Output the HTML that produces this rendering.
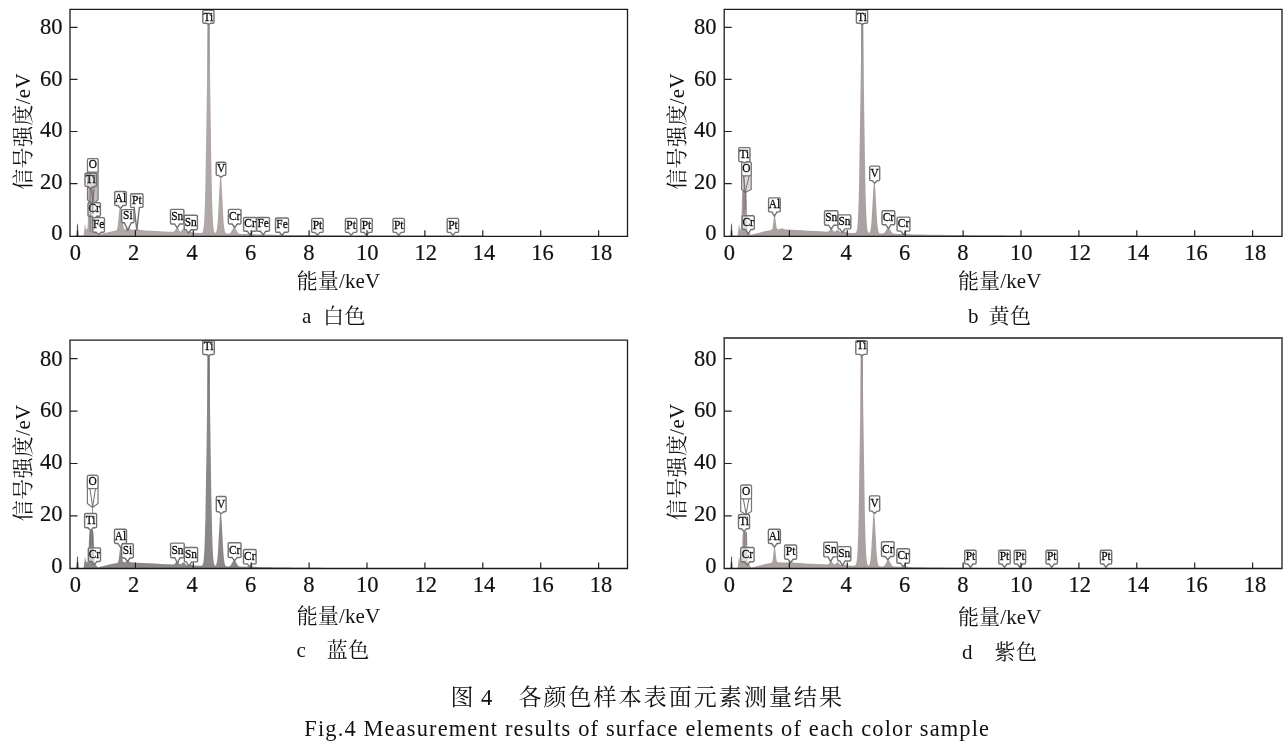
<!DOCTYPE html>
<html lang="zh"><head><meta charset="utf-8"><title>Fig.4</title>
<style>
html,body{margin:0;padding:0;background:#fff;overflow:hidden}
svg{display:block;filter:blur(.32px)}
text{font-family:"Liberation Serif","Noto Serif CJK SC",serif;fill:#111}
.lb{fill:#0a0a0a;stroke:#0a0a0a;stroke-width:.26px}
.tk{stroke:#111;stroke-width:.2px}
</style></head><body>
<svg width="1288" height="742" viewBox="0 0 1288 742">
<rect width="1288" height="742" fill="#fff"/>
<path d="M74.61,236.3L74.61,235.6L75.61,235.54L75.86,235.37L76.11,234.89L76.36,233.76L76.61,231.66L77.11,225.29L77.36,222.99L77.61,222.8L77.86,224.82L78.36,231.23L78.61,233.49L78.86,234.76L79.11,235.32L79.36,235.52L82.86,235.57L83.11,235.48L83.36,235.25L83.61,234.69L83.86,233.58L84.86,224.87L85.11,224.35L85.36,225.26L85.86,228.7L86.11,229.69L86.36,229.81L86.86,228.68L87.11,228.3L87.36,228.28L87.61,227.15L87.86,221.35L88.36,200.75L88.61,194L88.86,190.63L89.11,189.32L89.36,188.95L91.61,188.93L92.11,188.84L92.36,188.99L92.61,189.69L92.86,191.76L93.11,196.5L93.86,226.61L94.11,231.15L94.36,231.7L94.61,231.5L94.85,231.44L95.1,231.57L96.6,234.03L97.1,234.56L97.6,234.79L103.85,233.32L110.1,231.63L116.1,230.37L116.6,230.08L116.85,229.73L117.1,229.11L117.35,228.11L117.85,224.71L119.1,212.06L119.35,210.26L119.6,208.97L119.85,208.17L120.1,207.75L120.35,207.6L120.85,207.58L121.1,207.79L121.35,208.31L121.6,209.27L122.1,212.71L123.35,225.07L123.6,226.74L123.85,227.92L124.1,228.7L124.35,229.14L124.6,229.34L124.85,229.39L125.35,229.19L125.85,228.68L127.35,226.14L127.6,225.91L127.85,225.82L128.1,225.9L128.35,226.13L129.85,228.74L130.35,229.3L130.85,229.61L133.6,229.82L134.85,229.51L136.35,228.74L136.85,228.66L137.6,228.89L139.35,229.86L145.35,230.39L151.36,230.72L157.36,231.05L163.36,231.38L169.36,231.68L173.11,231.78L173.86,231.58L174.36,231.26L175.11,230.33L176.36,228.09L176.86,227.5L177.11,227.39L177.36,227.42L177.61,227.58L178.11,228.25L179.36,230.57L179.86,231.18L180.36,231.46L180.61,231.47L181.11,231.23L182.86,229L183.36,228.66L183.61,228.64L183.86,228.74L184.36,229.22L185.86,231.45L186.61,232.11L187.36,232.37L188.36,232.28L190.11,231.72L190.86,231.73L193.61,232.76L199.86,233.04L201.36,232.99L201.86,232.84L202.36,232.43L202.61,232.05L202.86,231.47L203.11,230.61L203.36,229.37L203.86,225.22L204.36,217.68L204.86,205.14L205.36,186.08L206.36,127.09L207.61,41.33L208.11,20L208.36,14.7L208.61,13.45L208.86,16.3L209.11,23.1L209.61,46.88L211.36,165.58L212.11,200.24L212.61,214.66L213.11,223.59L213.61,228.64L213.86,230.18L214.11,231.25L214.36,231.99L214.61,232.47L214.86,232.76L215.11,232.9L215.36,232.91L215.61,232.8L215.86,232.54L216.11,232.12L216.36,231.48L216.86,229.33L217.36,225.51L217.86,219.51L219.86,180.87L220.11,177.49L220.36,175.25L220.61,174.3L220.86,174.7L221.11,176.42L221.61,183.31L223.11,213.91L223.61,221.64L224.11,227L224.61,230.31L225.11,232.14L225.35,232.69L225.85,233.31L226.35,233.58L228.35,233.69L229.35,233.45L230.1,233L230.85,232.2L233.35,227.78L233.85,227.28L234.1,227.17L234.35,227.16L234.6,227.25L235.1,227.73L237.6,232.25L238.35,233.13L239.35,233.74L245.6,234.01L249.85,233.49L256.1,234.37L262.35,234.5L268.6,234.61L274.85,234.72L281.1,234.83L287.35,234.88L293.6,234.94L299.85,235L306.1,235.05L312.1,235.11L318.1,235.16L324.1,235.21L330.1,235.25L336.1,235.29L342.1,235.33L348.11,235.38L354.11,235.42L360.11,235.46L366.11,235.5L372.11,235.54L378.11,235.58L384.11,235.6L390.11,235.6L396.11,235.6L402.11,235.6L408.11,235.6L414.11,235.6L420.11,235.6L426.11,235.6L432.11,235.6L438.11,235.6L444.11,235.6L450.11,235.6L456.11,235.6L462.11,235.6L468.11,235.6L474.11,235.6L480.11,235.6L482.61,235.6L482.61,236.3Z" fill="#b0a8a6"/>
<path d="M89.2,202.8H99.2Q100.4,202.8 100.4,204V215Q100.4,216.2 99.2,216.2H96.8L94.2,219L91.6,216.2H89.2Q88,216.2 88,215V204Q88,202.8 89.2,202.8Z" fill="#fff" fill-opacity="0.6" stroke="#727272" stroke-width="1.4"/>
<path d="M94,217.6H103.2Q104.4,217.6 104.4,218.8V231Q104.4,232.2 103.2,232.2H101.2L98.6,234.6L96,232.2H94Q92.8,232.2 92.8,231V218.8Q92.8,217.6 94,217.6Z" fill="#fff" fill-opacity="0.8" stroke="#727272" stroke-width="1.4"/>
<path d="M89.1,158.6H96.5Q98.1,158.6 98.1,160.2V200L92.8,204L87.5,200V160.2Q87.5,158.6 89.1,158.6Z" fill="#b8b0ae" fill-opacity="0.85" stroke="#777" stroke-width="1.2"/><rect x="87.5" y="158.6" width="10.6" height="13.6" rx="1.6" fill="#fff" fill-opacity="1" stroke="#777" stroke-width="1.2"/><path d="M90,172.2L92.8,203.5L95.6,172.2" fill="none" stroke="#6f6f6f" stroke-width="1"/>
<path d="M86.2,173.2H95.2Q96.4,173.2 96.4,174.4V185.2Q96.4,186.4 95.2,186.4H93.3L90.7,189L88.1,186.4H86.2Q85,186.4 85,185.2V174.4Q85,173.2 86.2,173.2Z" fill="#fff" fill-opacity="0.6" stroke="#727272" stroke-width="1.4"/>
<path d="M115.9,191.5H125.1Q126.3,191.5 126.3,192.7V204.3Q126.3,205.5 125.1,205.5H123.1L120.5,208.5L117.9,205.5H115.9Q114.7,205.5 114.7,204.3V192.7Q114.7,191.5 115.9,191.5Z" fill="#fff" fill-opacity="1" stroke="#727272" stroke-width="1.4"/>
<path d="M122.8,209.6H132.8Q134,209.6 134,210.8V221.6Q134,222.8 132.8,222.8H131.2L127.8,230.2L124.4,222.8H122.8Q121.6,222.8 121.6,221.6V210.8Q121.6,209.6 122.8,209.6Z" fill="#fff" fill-opacity="0.8" stroke="#727272" stroke-width="1.4"/>
<path d="M131.8,193.8H141.8Q143,193.8 143,195V206.2Q143,207.4 141.8,207.4H139.4L136.8,230.5L134.2,207.4H131.8Q130.6,207.4 130.6,206.2V195Q130.6,193.8 131.8,193.8Z" fill="#fff" fill-opacity="1" stroke="#727272" stroke-width="1.4"/>
<path d="M171.7,209.4H182.7Q183.9,209.4 183.9,210.6V222.8Q183.9,224 182.7,224H179.8L177.2,227.8L174.6,224H171.7Q170.5,224 170.5,222.8V210.6Q170.5,209.4 171.7,209.4Z" fill="#fff" fill-opacity="1" stroke="#727272" stroke-width="1.4"/>
<path d="M185.4,215.3H196.2Q197.4,215.3 197.4,216.5V228.5Q197.4,229.7 196.2,229.7H191.1L188.5,233L185.9,229.7H185.4Q184.2,229.7 184.2,228.5V216.5Q184.2,215.3 185.4,215.3Z" fill="#fff" fill-opacity="1" stroke="#727272" stroke-width="1.4"/>
<linearGradient id="ga" x1="0" y1="0" x2="0" y2="1"><stop offset="0" stop-color="#958c8a"/><stop offset="1" stop-color="#b0a8a6"/></linearGradient><rect x="207.45" y="23.2" width="2.3" height="60" fill="url(#ga)"/><path d="M204,10.2H212.8Q214,10.2 214,11.4V22Q214,23.2 212.8,23.2H211.2L208.6,24.2L206,23.2H204Q202.8,23.2 202.8,22V11.4Q202.8,10.2 204,10.2Z" fill="#fff" fill-opacity="1" stroke="#727272" stroke-width="1.4"/>
<path d="M217.4,162.2H224.6Q225.8,162.2 225.8,163.4V174.2Q225.8,175.4 224.6,175.4H223.6L221,177.2L218.4,175.4H217.4Q216.2,175.4 216.2,174.2V163.4Q216.2,162.2 217.4,162.2Z" fill="#fff" fill-opacity="1" stroke="#727272" stroke-width="1.4"/>
<path d="M229.6,209.4H239.8Q241,209.4 241,210.6V222.8Q241,224 239.8,224H237.3L234.7,227.5L232.1,224H229.6Q228.4,224 228.4,222.8V210.6Q228.4,209.4 229.6,209.4Z" fill="#fff" fill-opacity="1" stroke="#727272" stroke-width="1.4"/>
<path d="M244.8,217.5H255.2Q256.4,217.5 256.4,218.7V230.1Q256.4,231.3 255.2,231.3H252.6L250,235L247.4,231.3H244.8Q243.6,231.3 243.6,230.1V218.7Q243.6,217.5 244.8,217.5Z" fill="#fff" fill-opacity="1" stroke="#727272" stroke-width="1.4"/>
<path d="M257.9,217.5H268.3Q269.5,217.5 269.5,218.7V230.1Q269.5,231.3 268.3,231.3H265.7L263.1,235L260.5,231.3H257.9Q256.7,231.3 256.7,230.1V218.7Q256.7,217.5 257.9,217.5Z" fill="#fff" fill-opacity="1" stroke="#727272" stroke-width="1.4"/>
<path d="M276.7,218H287.3Q288.5,218 288.5,219.2V231Q288.5,232.2 287.3,232.2H284.6L282,235.3L279.4,232.2H276.7Q275.5,232.2 275.5,231V219.2Q275.5,218 276.7,218Z" fill="#fff" fill-opacity="1" stroke="#727272" stroke-width="1.4"/>
<path d="M312.9,218.4H321.9Q323.1,218.4 323.1,219.6V231.2Q323.1,232.4 321.9,232.4H320L317.4,235.3L314.8,232.4H312.9Q311.7,232.4 311.7,231.2V219.6Q311.7,218.4 312.9,218.4Z" fill="#fff" fill-opacity="1" stroke="#727272" stroke-width="1.4"/>
<path d="M346.6,218.4H355.6Q356.8,218.4 356.8,219.6V231.2Q356.8,232.4 355.6,232.4H353.7L351.1,235.3L348.5,232.4H346.6Q345.4,232.4 345.4,231.2V219.6Q345.4,218.4 346.6,218.4Z" fill="#fff" fill-opacity="1" stroke="#727272" stroke-width="1.4"/>
<path d="M362,218.4H371Q372.2,218.4 372.2,219.6V231.2Q372.2,232.4 371,232.4H369.1L366.5,235.3L363.9,232.4H362Q360.8,232.4 360.8,231.2V219.6Q360.8,218.4 362,218.4Z" fill="#fff" fill-opacity="1" stroke="#727272" stroke-width="1.4"/>
<path d="M394.2,218.4H403.2Q404.4,218.4 404.4,219.6V231.2Q404.4,232.4 403.2,232.4H401.3L398.7,235.3L396.1,232.4H394.2Q393,232.4 393,231.2V219.6Q393,218.4 394.2,218.4Z" fill="#fff" fill-opacity="1" stroke="#727272" stroke-width="1.4"/>
<path d="M448.4,218.4H457.4Q458.6,218.4 458.6,219.6V231.2Q458.6,232.4 457.4,232.4H455.5L452.9,235.3L450.3,232.4H448.4Q447.2,232.4 447.2,231.2V219.6Q447.2,218.4 448.4,218.4Z" fill="#fff" fill-opacity="1" stroke="#727272" stroke-width="1.4"/>
<text class="lb" transform="translate(94.2,212.3) scale(1,1.16)" text-anchor="middle" font-size="11.4">Cr</text>
<text class="lb" transform="translate(98.6,228.3) scale(1,1.16)" text-anchor="middle" font-size="11.4">Fe</text>
<text class="lb" transform="translate(92.8,168.3) scale(1,1.16)" text-anchor="middle" font-size="11.4">O</text>
<text class="lb" transform="translate(90.7,182.5) scale(1,1.16)" text-anchor="middle" font-size="11.4">Ti</text>
<text class="lb" transform="translate(120.5,201.6) scale(1,1.16)" text-anchor="middle" font-size="11.4">Al</text>
<text class="lb" transform="translate(127.8,218.9) scale(1,1.16)" text-anchor="middle" font-size="11.4">Si</text>
<text class="lb" transform="translate(136.8,203.5) scale(1,1.16)" text-anchor="middle" font-size="11.4">Pt</text>
<text class="lb" transform="translate(177.2,220.1) scale(1,1.16)" text-anchor="middle" font-size="11.4">Sn</text>
<text class="lb" transform="translate(190.8,225.8) scale(1,1.16)" text-anchor="middle" font-size="11.4">Sn</text>
<text class="lb" transform="translate(208.4,20.7) scale(1,1.16)" text-anchor="middle" font-size="11.4">Ti</text>
<text class="lb" transform="translate(221,171.5) scale(1,1.16)" text-anchor="middle" font-size="11.4">V</text>
<text class="lb" transform="translate(234.7,220.1) scale(1,1.16)" text-anchor="middle" font-size="11.4">Cr</text>
<text class="lb" transform="translate(250,227.4) scale(1,1.16)" text-anchor="middle" font-size="11.4">Cr</text>
<text class="lb" transform="translate(263.1,227.4) scale(1,1.16)" text-anchor="middle" font-size="11.4">Fe</text>
<text class="lb" transform="translate(282,228.3) scale(1,1.16)" text-anchor="middle" font-size="11.4">Fe</text>
<text class="lb" transform="translate(317.4,228.5) scale(1,1.16)" text-anchor="middle" font-size="11.4">Pt</text>
<text class="lb" transform="translate(351.1,228.5) scale(1,1.16)" text-anchor="middle" font-size="11.4">Pt</text>
<text class="lb" transform="translate(366.5,228.5) scale(1,1.16)" text-anchor="middle" font-size="11.4">Pt</text>
<text class="lb" transform="translate(398.7,228.5) scale(1,1.16)" text-anchor="middle" font-size="11.4">Pt</text>
<text class="lb" transform="translate(452.9,228.5) scale(1,1.16)" text-anchor="middle" font-size="11.4">Pt</text>
<path d="M90.2,187V232" stroke="#6c6664" stroke-width="0.9" fill="none" opacity="0.8"/>
<path d="M92.9,190V214" stroke="#6c6664" stroke-width="0.9" fill="none" opacity="0.8"/>
<path d="M77.5,224.41V236.3" stroke="#555" stroke-width="1.1" fill="none"/>
<path d="M70,9.4H627.5V236.3H70Z" fill="none" stroke="#1c1c1c" stroke-width="1.3"/>
<path d="M70,183.55h7.5M70,131.5h7.5M70,79.45h7.5M70,27.4h7.5M77.5,236.3v-6M135.4,236.3v-6M193.3,236.3v-6M251.2,236.3v-6M309.1,236.3v-6M367,236.3v-6M424.9,236.3v-6M482.8,236.3v-6M540.7,236.3v-6M598.6,236.3v-6" fill="none" stroke="#222" stroke-width="1.2"/>
<text class="tk" x="62.4" y="34.2" text-anchor="end" font-size="22.5">80</text>
<text class="tk" x="62.4" y="85.7" text-anchor="end" font-size="22.5">60</text>
<text class="tk" x="62.4" y="137.2" text-anchor="end" font-size="22.5">40</text>
<text class="tk" x="62.4" y="188.7" text-anchor="end" font-size="22.5">20</text>
<text class="tk" x="62.4" y="240.2" text-anchor="end" font-size="22.5">0</text>
<text class="tk" x="75.3" y="259.5" text-anchor="middle" font-size="22.5">0</text>
<text class="tk" x="133.7" y="259.5" text-anchor="middle" font-size="22.5">2</text>
<text class="tk" x="192.1" y="259.5" text-anchor="middle" font-size="22.5">4</text>
<text class="tk" x="250.5" y="259.5" text-anchor="middle" font-size="22.5">6</text>
<text class="tk" x="308.9" y="259.5" text-anchor="middle" font-size="22.5">8</text>
<text class="tk" x="367.3" y="259.5" text-anchor="middle" font-size="22.5">10</text>
<text class="tk" x="425.7" y="259.5" text-anchor="middle" font-size="22.5">12</text>
<text class="tk" x="484.1" y="259.5" text-anchor="middle" font-size="22.5">14</text>
<text class="tk" x="542.5" y="259.5" text-anchor="middle" font-size="22.5">16</text>
<text class="tk" x="600.9" y="259.5" text-anchor="middle" font-size="22.5">18</text>
<text transform="translate(29.5,131.35) rotate(-90)" text-anchor="middle" font-size="21" letter-spacing="0.35">信号强度/eV</text>
<text x="338.5" y="287.8" text-anchor="middle" font-size="21" letter-spacing="0.15">能量/keV</text>
<text x="302" y="323.4" font-size="21">a</text>
<path d="M728.61,236.3L728.61,235.6L729.61,235.54L729.86,235.37L730.11,234.89L730.36,233.76L730.61,231.66L731.11,225.29L731.36,222.99L731.61,222.8L731.86,224.82L732.36,231.23L732.61,233.49L732.86,234.76L733.11,235.32L733.36,235.52L736.86,235.57L737.11,235.48L737.36,235.25L737.61,234.69L737.86,233.58L738.86,224.87L739.11,224.35L739.36,225.26L739.86,228.7L740.11,229.69L740.36,229.81L740.86,228.63L741.11,227.24L741.36,222.19L741.86,201.65L742.11,194.24L742.36,190.58L742.61,189.36L742.86,189.25L743.36,189.74L743.86,189.99L745.11,189.98L745.61,189.88L745.86,189.95L746.11,190.43L746.36,192L746.61,195.79L746.86,203.11L747.36,224.6L747.61,230.54L747.86,231.72L748.36,231.44L748.61,231.52L748.86,231.77L750.11,234.04L750.61,234.62L751.11,234.87L757.35,233.35L763.6,231.57L769.85,230.17L771.1,229.99L771.6,229.76L771.85,229.5L772.1,229.08L772.35,228.41L772.6,227.4L773.1,224.16L774.1,215.53L774.35,214.36L774.6,214.07L774.85,214.72L775.1,216.18L776.1,224.7L776.6,227.45L776.85,228.25L777.1,228.74L777.35,229.03L778.1,229.28L779.35,229.21L781.6,228.15L782.1,228.16L784.35,229.34L790.6,229.68L796.6,229.97L802.61,230.32L808.61,230.67L814.86,231.03L820.86,231.36L826.86,231.64L827.86,231.52L828.61,231.19L830.61,229.24L831.11,229.03L831.36,229.06L831.86,229.34L833.61,231.24L834.11,231.53L834.61,231.6L835.11,231.47L836.86,230.14L837.36,229.94L837.86,230L838.61,230.53L840.11,231.87L840.86,232.19L841.86,232.24L844.11,231.57L844.86,231.59L847.61,232.63L853.86,232.91L855.11,232.84L855.61,232.65L856.11,232.17L856.36,231.71L856.61,231.04L856.86,230.04L857.11,228.63L857.61,223.94L858.11,215.55L858.61,201.85L859.11,181.4L861.36,36.06L861.61,24.97L861.86,17.34L862.11,13.6L862.36,13.95L862.61,18.37L862.86,26.62L863.36,52.65L865.11,170.88L865.61,194.39L866.11,210.8L866.61,221.23L867.11,227.3L867.36,229.18L867.61,230.53L867.86,231.46L868.11,232.09L868.36,232.5L868.61,232.73L868.86,232.83L869.11,232.81L869.36,232.67L869.61,232.4L869.86,231.96L870.11,231.3L870.61,229.14L871.11,225.39L871.61,219.64L873.36,188.79L873.86,182.63L874.11,181.07L874.36,180.69L874.61,181.51L874.86,183.48L875.36,190.29L876.86,217.48L877.36,223.95L877.86,228.33L878.36,230.98L878.86,232.42L879.36,233.13L879.86,233.45L882.35,233.61L883.6,233.28L884.35,232.77L885.35,231.54L887.1,228.5L887.6,227.89L888.1,227.6L888.35,227.6L888.6,227.68L889.1,228.12L891.6,232.31L892.35,233.12L893.35,233.69L899.6,233.93L903.85,233.42L910.1,234.31L916.35,234.44L922.6,234.56L928.85,234.68L935.1,234.79L941.35,234.85L947.6,234.91L953.85,234.97L960.1,235.03L966.1,235.08L972.1,235.14L978.1,235.19L984.1,235.24L990.1,235.28L996.1,235.32L1002.11,235.36L1008.11,235.41L1014.11,235.45L1020.11,235.49L1026.11,235.53L1032.11,235.58L1038.11,235.6L1044.11,235.6L1050.11,235.6L1056.11,235.6L1062.11,235.6L1068.11,235.6L1074.11,235.6L1080.11,235.6L1086.11,235.6L1092.11,235.6L1098.11,235.6L1104.11,235.6L1110.11,235.6L1116.11,235.6L1122.11,235.6L1128.11,235.6L1134.11,235.6L1136.61,235.6L1136.61,236.3Z" fill="#aaa2a0"/>
<path d="M743.3,215.7H753.1Q754.3,215.7 754.3,216.9V228.3Q754.3,229.5 753.1,229.5H750.8L748.2,234L745.6,229.5H743.3Q742.1,229.5 742.1,228.3V216.9Q742.1,215.7 743.3,215.7Z" fill="#fff" fill-opacity="0.6" stroke="#727272" stroke-width="1.4"/>
<path d="M743.2,161.8H749.6Q751.2,161.8 751.2,163.4V189.5L745.2,192.5L741.6,189.5V163.4Q741.6,161.8 743.2,161.8Z" fill="#d8d2d0" fill-opacity="0.8" stroke="#777" stroke-width="1.2"/><rect x="741.6" y="161.8" width="9.6" height="14" rx="1.6" fill="#fff" fill-opacity="0.75" stroke="#777" stroke-width="1.2"/><path d="M743.6,175.8L745.2,192L749.2,175.8" fill="none" stroke="#6f6f6f" stroke-width="1"/>
<path d="M740,147.6H748.8Q750,147.6 750,148.8V160.4Q750,161.6 748.8,161.6H747L744.4,163L741.8,161.6H740Q738.8,161.6 738.8,160.4V148.8Q738.8,147.6 740,147.6Z" fill="#fff" fill-opacity="0.9" stroke="#727272" stroke-width="1.4"/>
<path d="M769.8,197.9H779Q780.2,197.9 780.2,199.1V210.7Q780.2,211.9 779,211.9H777L774.4,216.2L771.8,211.9H769.8Q768.6,211.9 768.6,210.7V199.1Q768.6,197.9 769.8,197.9Z" fill="#fff" fill-opacity="1" stroke="#727272" stroke-width="1.4"/>
<path d="M825.7,210.8H836.7Q837.9,210.8 837.9,212V224Q837.9,225.2 836.7,225.2H833.8L831.2,229.2L828.6,225.2H825.7Q824.5,225.2 824.5,224V212Q824.5,210.8 825.7,210.8Z" fill="#fff" fill-opacity="1" stroke="#727272" stroke-width="1.4"/>
<path d="M839.2,214.9H849.6Q850.8,214.9 850.8,216.1V227.7Q850.8,228.9 849.6,228.9H845L842.4,232.6L839.8,228.9H839.2Q838,228.9 838,227.7V216.1Q838,214.9 839.2,214.9Z" fill="#fff" fill-opacity="1" stroke="#727272" stroke-width="1.4"/>
<linearGradient id="gb" x1="0" y1="0" x2="0" y2="1"><stop offset="0" stop-color="#958c8a"/><stop offset="1" stop-color="#aaa2a0"/></linearGradient><rect x="861.05" y="23.2" width="2.3" height="60" fill="url(#gb)"/><path d="M857.6,10.2H866.4Q867.6,10.2 867.6,11.4V22Q867.6,23.2 866.4,23.2H864.8L862.2,24.2L859.6,23.2H857.6Q856.4,23.2 856.4,22V11.4Q856.4,10.2 857.6,10.2Z" fill="#fff" fill-opacity="1" stroke="#727272" stroke-width="1.4"/>
<path d="M870.9,166.1H878.5Q879.7,166.1 879.7,167.3V179.4Q879.7,180.6 878.5,180.6H877.3L874.7,183.3L872.1,180.6H870.9Q869.7,180.6 869.7,179.4V167.3Q869.7,166.1 870.9,166.1Z" fill="#fff" fill-opacity="1" stroke="#727272" stroke-width="1.4"/>
<path d="M883.2,210.8H893.6Q894.8,210.8 894.8,212V223.6Q894.8,224.8 893.6,224.8H891L888.4,228.6L885.8,224.8H883.2Q882,224.8 882,223.6V212Q882,210.8 883.2,210.8Z" fill="#fff" fill-opacity="1" stroke="#727272" stroke-width="1.4"/>
<path d="M898.3,217.1H908.7Q909.9,217.1 909.9,218.3V229.9Q909.9,231.1 908.7,231.1H906.1L903.5,234.6L900.9,231.1H898.3Q897.1,231.1 897.1,229.9V218.3Q897.1,217.1 898.3,217.1Z" fill="#fff" fill-opacity="1" stroke="#727272" stroke-width="1.4"/>
<text class="lb" transform="translate(748.2,225.6) scale(1,1.16)" text-anchor="middle" font-size="11.4">Cr</text>
<text class="lb" transform="translate(746.4,171.9) scale(1,1.16)" text-anchor="middle" font-size="11.4">O</text>
<text class="lb" transform="translate(744.4,157.7) scale(1,1.16)" text-anchor="middle" font-size="11.4">Ti</text>
<text class="lb" transform="translate(774.4,208) scale(1,1.16)" text-anchor="middle" font-size="11.4">Al</text>
<text class="lb" transform="translate(831.2,221.3) scale(1,1.16)" text-anchor="middle" font-size="11.4">Sn</text>
<text class="lb" transform="translate(844.4,225) scale(1,1.16)" text-anchor="middle" font-size="11.4">Sn</text>
<text class="lb" transform="translate(862,20.5) scale(1,1.16)" text-anchor="middle" font-size="11.4">Ti</text>
<text class="lb" transform="translate(874.7,176.7) scale(1,1.16)" text-anchor="middle" font-size="11.4">V</text>
<text class="lb" transform="translate(888.4,220.9) scale(1,1.16)" text-anchor="middle" font-size="11.4">Cr</text>
<text class="lb" transform="translate(903.5,227.2) scale(1,1.16)" text-anchor="middle" font-size="11.4">Cr</text>
<path d="M744,176V214" stroke="#6c6664" stroke-width="0.9" fill="none" opacity="0.8"/>
<path d="M745.6,190V210" stroke="#6c6664" stroke-width="0.9" fill="none" opacity="0.8"/>
<path d="M731.5,224.41V236.3" stroke="#555" stroke-width="1.1" fill="none"/>
<path d="M724.2,9.4H1282V236.3H724.2Z" fill="none" stroke="#1c1c1c" stroke-width="1.3"/>
<path d="M724.2,183.55h7.5M724.2,131.5h7.5M724.2,79.45h7.5M724.2,27.4h7.5M731.5,236.3v-6M789.4,236.3v-6M847.3,236.3v-6M905.2,236.3v-6M963.1,236.3v-6M1021,236.3v-6M1078.9,236.3v-6M1136.8,236.3v-6M1194.7,236.3v-6M1252.6,236.3v-6" fill="none" stroke="#222" stroke-width="1.2"/>
<text class="tk" x="716.6" y="34.2" text-anchor="end" font-size="22.5">80</text>
<text class="tk" x="716.6" y="85.7" text-anchor="end" font-size="22.5">60</text>
<text class="tk" x="716.6" y="137.2" text-anchor="end" font-size="22.5">40</text>
<text class="tk" x="716.6" y="188.7" text-anchor="end" font-size="22.5">20</text>
<text class="tk" x="716.6" y="240.2" text-anchor="end" font-size="22.5">0</text>
<text class="tk" x="729.3" y="259.5" text-anchor="middle" font-size="22.5">0</text>
<text class="tk" x="787.7" y="259.5" text-anchor="middle" font-size="22.5">2</text>
<text class="tk" x="846.1" y="259.5" text-anchor="middle" font-size="22.5">4</text>
<text class="tk" x="904.5" y="259.5" text-anchor="middle" font-size="22.5">6</text>
<text class="tk" x="962.9" y="259.5" text-anchor="middle" font-size="22.5">8</text>
<text class="tk" x="1021.3" y="259.5" text-anchor="middle" font-size="22.5">10</text>
<text class="tk" x="1079.7" y="259.5" text-anchor="middle" font-size="22.5">12</text>
<text class="tk" x="1138.1" y="259.5" text-anchor="middle" font-size="22.5">14</text>
<text class="tk" x="1196.5" y="259.5" text-anchor="middle" font-size="22.5">16</text>
<text class="tk" x="1254.9" y="259.5" text-anchor="middle" font-size="22.5">18</text>
<text transform="translate(683.7,131.35) rotate(-90)" text-anchor="middle" font-size="21" letter-spacing="0.35">信号强度/eV</text>
<text x="999.8" y="288.3" text-anchor="middle" font-size="21" letter-spacing="0.15">能量/keV</text>
<text x="968" y="323.4" font-size="21">b</text>
<path d="M74.61,568.5L74.61,568.3L75.61,568.24L75.86,568.07L76.11,567.58L76.36,566.45L76.61,564.33L77.11,557.92L77.36,555.6L77.61,555.41L77.86,557.44L78.36,563.9L78.61,566.18L78.86,567.45L79.11,568.02L79.36,568.22L82.86,568.27L83.11,568.18L83.36,567.95L83.61,567.39L83.86,566.27L84.86,557.5L85.11,556.98L85.36,557.89L85.86,561.36L86.11,562.35L86.36,562.47L86.86,561.34L87.11,560.95L87.36,561.07L87.61,561.72L87.86,562.7L88.11,562.73L88.36,558.79L88.86,541.83L89.11,535.73L89.36,532.45L89.61,531.01L89.86,530.49L90.11,530.34L92.61,530.12L92.86,530.18L93.11,530.66L93.36,532.16L93.61,535.71L93.86,542.31L94.36,559.87L94.61,563.88L94.85,564.4L95.1,564.19L95.35,564.11L95.6,564.18L95.85,564.4L97.1,566.55L97.6,567.1L98.1,567.34L104.35,565.87L110.6,564.16L116.85,562.97L117.35,562.82L117.6,562.67L117.85,562.39L118.1,561.94L118.35,561.2L118.6,560.11L119.1,556.59L120.1,547.18L120.35,545.91L120.6,545.6L120.85,546.31L121.1,547.91L122.1,557.22L122.6,560.23L122.85,561.1L123.1,561.64L123.35,561.95L123.6,562.11L124.6,562.23L125.35,562.07L126.1,561.61L127.35,560.46L127.85,560.29L128.35,560.46L129.85,561.88L130.6,562.29L136.85,562.63L142.85,562.92L148.86,563.25L154.86,563.58L160.86,563.91L166.86,564.23L172.86,564.49L173.86,564.35L174.61,563.94L176.61,561.59L176.86,561.42L177.11,561.34L177.36,561.37L177.86,561.7L179.61,563.94L180.11,564.27L180.61,564.35L181.11,564.19L182.86,562.59L183.36,562.35L183.86,562.42L184.36,562.77L185.86,564.41L186.61,564.9L187.36,565.08L188.61,564.88L190.11,564.39L190.86,564.4L193.61,565.44L199.86,565.72L201.36,565.68L201.86,565.52L202.36,565.11L202.61,564.72L202.86,564.14L203.11,563.27L203.36,562.03L203.86,557.85L204.36,550.26L204.86,537.63L205.36,518.45L206.36,459.06L207.61,372.72L208.11,351.25L208.36,345.92L208.61,344.65L208.86,347.52L209.11,354.37L209.61,378.31L211.36,497.81L212.11,532.7L212.61,547.22L213.11,556.21L213.61,561.29L213.86,562.84L214.11,563.93L214.36,564.67L214.61,565.16L214.86,565.45L215.11,565.6L215.36,565.62L215.61,565.53L215.86,565.3L216.11,564.92L216.36,564.34L216.86,562.37L217.36,558.88L217.86,553.4L219.86,518.09L220.11,515L220.36,512.95L220.61,512.08L220.86,512.45L221.11,514.03L221.61,520.32L223.11,548.3L223.61,555.36L224.11,560.26L224.61,563.29L225.11,564.96L225.6,565.8L226.1,566.19L228.1,566.4L229.35,566.13L230.1,565.68L230.85,564.88L233.35,560.43L233.85,559.92L234.1,559.81L234.35,559.8L234.6,559.9L235.1,560.38L237.6,564.93L238.35,565.81L239.35,566.43L245.6,566.69L249.85,566.18L256.1,567.06L262.35,567.19L268.6,567.31L274.85,567.42L281.1,567.52L287.35,567.58L293.6,567.64L299.85,567.69L306.1,567.75L312.1,567.8L318.1,567.86L324.1,567.91L330.1,567.95L336.1,567.99L342.1,568.03L348.11,568.07L354.11,568.11L360.11,568.15L366.11,568.2L372.11,568.24L378.11,568.28L384.11,568.3L390.11,568.3L396.11,568.3L402.11,568.3L408.11,568.3L414.11,568.3L420.11,568.3L426.11,568.3L432.11,568.3L438.11,568.3L444.11,568.3L450.11,568.3L456.11,568.3L462.11,568.3L468.11,568.3L474.11,568.3L480.11,568.3L482.61,568.3L482.61,568.5Z" fill="#8b8787"/>
<path d="M89.5,547.9H99.3Q100.5,547.9 100.5,549.1V560.3Q100.5,561.5 99.3,561.5H97L94.4,564.4L91.8,561.5H89.5Q88.3,561.5 88.3,560.3V549.1Q88.3,547.9 89.5,547.9Z" fill="#fff" fill-opacity="0.6" stroke="#727272" stroke-width="1.4"/>
<path d="M89,475.4H96.4Q98,475.4 98,477V503.5L92.7,507.5L87.4,503.5V477Q87.4,475.4 89,475.4Z" fill="#fff" fill-opacity="1" stroke="#777" stroke-width="1.2"/><rect x="87.4" y="475.4" width="10.6" height="13.2" rx="1.6" fill="#fff" fill-opacity="1" stroke="#777" stroke-width="1.2"/><path d="M89.9,488.6L92.7,507L95.5,488.6" fill="none" stroke="#6f6f6f" stroke-width="1"/>
<path d="M85.8,513.5H95.4Q96.6,513.5 96.6,514.7V526.5Q96.6,527.7 95.4,527.7H93.2L90.6,530.5L88,527.7H85.8Q84.6,527.7 84.6,526.5V514.7Q84.6,513.5 85.8,513.5Z" fill="#fff" fill-opacity="0.85" stroke="#727272" stroke-width="1.4"/>
<path d="M115.7,529.3H125.3Q126.5,529.3 126.5,530.5V542.3Q126.5,543.5 125.3,543.5H123.1L120.5,547.3L117.9,543.5H115.7Q114.5,543.5 114.5,542.3V530.5Q114.5,529.3 115.7,529.3Z" fill="#fff" fill-opacity="1" stroke="#727272" stroke-width="1.4"/>
<path d="M122.9,543.8H132.1Q133.3,543.8 133.3,545V556.8Q133.3,558 132.1,558H130.1L127.5,561.5L124.9,558H122.9Q121.7,558 121.7,556.8V545Q121.7,543.8 122.9,543.8Z" fill="#fff" fill-opacity="1" stroke="#727272" stroke-width="1.4"/>
<path d="M171.8,543.1H183Q184.2,543.1 184.2,544.3V556.5Q184.2,557.7 183,557.7H180L177.4,563L174.8,557.7H171.8Q170.6,557.7 170.6,556.5V544.3Q170.6,543.1 171.8,543.1Z" fill="#fff" fill-opacity="1" stroke="#727272" stroke-width="1.4"/>
<path d="M185.6,547.5H196.4Q197.6,547.5 197.6,548.7V560.7Q197.6,561.9 196.4,561.9H191.6L189,566L186.4,561.9H185.6Q184.4,561.9 184.4,560.7V548.7Q184.4,547.5 185.6,547.5Z" fill="#fff" fill-opacity="1" stroke="#727272" stroke-width="1.4"/>
<linearGradient id="gc" x1="0" y1="0" x2="0" y2="1"><stop offset="0" stop-color="#726c6c"/><stop offset="1" stop-color="#8b8787"/></linearGradient><rect x="207.45" y="354.5" width="2.3" height="60" fill="url(#gc)"/><path d="M203.9,340.9H213.1Q214.3,340.9 214.3,342.1V353.3Q214.3,354.5 213.1,354.5H211.2L208.6,355.5L206,354.5H203.9Q202.7,354.5 202.7,353.3V342.1Q202.7,340.9 203.9,340.9Z" fill="#fff" fill-opacity="1" stroke="#727272" stroke-width="1.4"/>
<path d="M217.5,496.5H224.9Q226.1,496.5 226.1,497.7V510.5Q226.1,511.7 224.9,511.7H223.8L221.2,513.7L218.6,511.7H217.5Q216.3,511.7 216.3,510.5V497.7Q216.3,496.5 217.5,496.5Z" fill="#fff" fill-opacity="1" stroke="#727272" stroke-width="1.4"/>
<path d="M229.4,542.7H239.8Q241,542.7 241,543.9V556.3Q241,557.5 239.8,557.5H237.2L234.6,560.6L232,557.5H229.4Q228.2,557.5 228.2,556.3V543.9Q228.2,542.7 229.4,542.7Z" fill="#fff" fill-opacity="1" stroke="#727272" stroke-width="1.4"/>
<path d="M244.7,549.5H254.9Q256.1,549.5 256.1,550.7V562.7Q256.1,563.9 254.9,563.9H252.4L249.8,567L247.2,563.9H244.7Q243.5,563.9 243.5,562.7V550.7Q243.5,549.5 244.7,549.5Z" fill="#fff" fill-opacity="1" stroke="#727272" stroke-width="1.4"/>
<text class="lb" transform="translate(94.4,557.6) scale(1,1.16)" text-anchor="middle" font-size="11.4">Cr</text>
<text class="lb" transform="translate(92.7,484.7) scale(1,1.16)" text-anchor="middle" font-size="11.4">O</text>
<text class="lb" transform="translate(90.6,523.8) scale(1,1.16)" text-anchor="middle" font-size="11.4">Ti</text>
<text class="lb" transform="translate(120.5,539.6) scale(1,1.16)" text-anchor="middle" font-size="11.4">Al</text>
<text class="lb" transform="translate(127.5,554.1) scale(1,1.16)" text-anchor="middle" font-size="11.4">Si</text>
<text class="lb" transform="translate(177.4,553.8) scale(1,1.16)" text-anchor="middle" font-size="11.4">Sn</text>
<text class="lb" transform="translate(191,558) scale(1,1.16)" text-anchor="middle" font-size="11.4">Sn</text>
<text class="lb" transform="translate(208.5,350.3) scale(1,1.16)" text-anchor="middle" font-size="11.4">Ti</text>
<text class="lb" transform="translate(221.2,507.8) scale(1,1.16)" text-anchor="middle" font-size="11.4">V</text>
<text class="lb" transform="translate(234.6,553.6) scale(1,1.16)" text-anchor="middle" font-size="11.4">Cr</text>
<text class="lb" transform="translate(249.8,560) scale(1,1.16)" text-anchor="middle" font-size="11.4">Cr</text>
<path d="M90.6,531V547" stroke="#6c6664" stroke-width="0.9" fill="none" opacity="0.8"/>
<path d="M92.6,507.5V513.5" stroke="#6c6664" stroke-width="0.9" fill="none" opacity="0.8"/>
<path d="M92.4,531V545" stroke="#6c6664" stroke-width="0.9" fill="none" opacity="0.8"/>
<path d="M77.5,557.03V568.5" stroke="#555" stroke-width="1.1" fill="none"/>
<path d="M70,340.1H627.5V568.5H70Z" fill="none" stroke="#1c1c1c" stroke-width="1.3"/>
<path d="M70,515.9h7.5M70,463.5h7.5M70,411.1h7.5M70,358.7h7.5M77.5,568.5v-6M135.4,568.5v-6M193.3,568.5v-6M251.2,568.5v-6M309.1,568.5v-6M367,568.5v-6M424.9,568.5v-6M482.8,568.5v-6M540.7,568.5v-6M598.6,568.5v-6" fill="none" stroke="#222" stroke-width="1.2"/>
<text class="tk" x="62.4" y="365.5" text-anchor="end" font-size="22.5">80</text>
<text class="tk" x="62.4" y="417.28" text-anchor="end" font-size="22.5">60</text>
<text class="tk" x="62.4" y="469.06" text-anchor="end" font-size="22.5">40</text>
<text class="tk" x="62.4" y="520.84" text-anchor="end" font-size="22.5">20</text>
<text class="tk" x="62.4" y="572.62" text-anchor="end" font-size="22.5">0</text>
<text class="tk" x="75.3" y="591.7" text-anchor="middle" font-size="22.5">0</text>
<text class="tk" x="133.7" y="591.7" text-anchor="middle" font-size="22.5">2</text>
<text class="tk" x="192.1" y="591.7" text-anchor="middle" font-size="22.5">4</text>
<text class="tk" x="250.5" y="591.7" text-anchor="middle" font-size="22.5">6</text>
<text class="tk" x="308.9" y="591.7" text-anchor="middle" font-size="22.5">8</text>
<text class="tk" x="367.3" y="591.7" text-anchor="middle" font-size="22.5">10</text>
<text class="tk" x="425.7" y="591.7" text-anchor="middle" font-size="22.5">12</text>
<text class="tk" x="484.1" y="591.7" text-anchor="middle" font-size="22.5">14</text>
<text class="tk" x="542.5" y="591.7" text-anchor="middle" font-size="22.5">16</text>
<text class="tk" x="600.9" y="591.7" text-anchor="middle" font-size="22.5">18</text>
<text transform="translate(29.5,462.8) rotate(-90)" text-anchor="middle" font-size="21" letter-spacing="0.35">信号强度/eV</text>
<text x="338.5" y="623.2" text-anchor="middle" font-size="21" letter-spacing="0.15">能量/keV</text>
<text x="296.6" y="657.3" font-size="21">c</text>
<path d="M728.61,568.5L728.61,568.3L729.61,568.24L729.86,568.07L730.11,567.58L730.36,566.45L730.61,564.33L731.11,557.92L731.36,555.6L731.61,555.41L731.86,557.44L732.36,563.9L732.61,566.18L732.86,567.45L733.11,568.02L733.36,568.22L736.86,568.27L737.11,568.18L737.36,567.95L737.61,567.39L737.86,566.27L738.86,557.5L739.11,556.98L739.36,557.89L739.86,561.36L740.11,562.35L740.36,562.47L740.86,561.34L741.11,560.95L741.36,560.96L741.61,560.22L741.86,555.88L742.36,540.2L742.61,535.11L742.86,532.63L743.11,531.72L743.36,531.5L745.36,531.57L746.11,531.43L746.36,531.5L746.61,532L746.86,533.57L747.11,537.2L747.86,560.57L748.11,564.04L748.36,564.39L748.61,564.17L748.86,564.11L749.11,564.24L750.61,566.72L751.11,567.26L751.61,567.48L757.85,566.01L764.1,564.3L770.35,563.04L771.35,562.82L771.6,562.67L771.85,562.39L772.1,561.94L772.35,561.2L772.6,560.11L773.1,556.59L774.1,547.18L774.35,545.91L774.6,545.6L774.85,546.31L775.1,547.91L776.1,557.22L776.6,560.23L776.85,561.1L777.1,561.64L777.35,561.95L777.85,562.19L784.1,562.44L788.1,562.44L790.6,561.59L791.35,561.67L793.6,562.63L799.61,563.07L805.61,563.4L811.61,563.73L817.61,564.07L823.61,564.37L827.36,564.46L828.11,564.25L828.86,563.72L830.61,561.59L830.86,561.42L831.11,561.34L831.36,561.37L831.86,561.7L833.61,563.94L834.11,564.27L834.61,564.35L835.11,564.19L836.86,562.59L837.36,562.35L837.86,562.42L838.36,562.77L839.86,564.41L840.61,564.9L841.36,565.08L842.61,564.88L844.11,564.39L844.86,564.4L847.61,565.44L853.86,565.71L854.86,565.59L855.36,565.32L855.61,565.05L855.86,564.64L856.11,564.02L856.36,563.12L856.61,561.82L857.11,557.47L857.61,549.61L858.11,536.61L858.61,516.97L860.86,370.97L861.11,358.98L861.36,350.33L861.61,345.51L861.86,344.77L862.11,348.16L862.36,355.48L862.86,380.18L864.61,499.59L865.11,524.22L865.61,541.64L866.11,552.84L866.61,559.43L866.86,561.5L867.11,562.98L867.36,564.02L867.61,564.72L867.86,565.18L868.11,565.46L868.36,565.59L868.61,565.6L868.86,565.49L869.11,565.24L869.36,564.84L869.61,564.23L870.11,562.18L870.61,558.58L871.11,552.95L873.11,517.63L873.36,514.66L873.61,512.76L873.86,512.04L874.11,512.56L874.36,514.29L874.86,520.81L876.36,548.79L876.86,555.72L877.36,560.48L877.86,563.41L878.36,565.02L878.86,565.82L879.36,566.19L882.35,566.38L883.35,566.13L884.1,565.68L884.85,564.88L887.35,560.43L887.85,559.92L888.1,559.81L888.35,559.8L888.6,559.9L889.1,560.38L891.6,564.93L892.35,565.81L893.35,566.43L899.6,566.69L903.85,566.18L910.1,567.06L916.35,567.19L922.6,567.31L928.85,567.42L935.1,567.52L941.35,567.58L947.6,567.64L953.85,567.69L960.1,567.75L966.1,567.8L972.1,567.86L978.1,567.91L984.1,567.95L990.1,567.99L996.1,568.03L1002.11,568.07L1008.11,568.11L1014.11,568.15L1020.11,568.2L1026.11,568.24L1032.11,568.28L1038.11,568.3L1044.11,568.3L1050.11,568.3L1056.11,568.3L1062.11,568.3L1068.11,568.3L1074.11,568.3L1080.11,568.3L1086.11,568.3L1092.11,568.3L1098.11,568.3L1104.11,568.3L1110.11,568.3L1116.11,568.3L1122.11,568.3L1128.11,568.3L1134.11,568.3L1136.61,568.3L1136.61,568.5Z" fill="#aaa2a0"/>
<path d="M741.9,547.5H752.9Q754.1,547.5 754.1,548.7V560.5Q754.1,561.7 752.9,561.7H750L747.4,565L744.8,561.7H741.9Q740.7,561.7 740.7,560.5V548.7Q740.7,547.5 741.9,547.5Z" fill="#fff" fill-opacity="0.6" stroke="#727272" stroke-width="1.4"/>
<path d="M742.3,485.1H749.9Q751.5,485.1 751.5,486.7V511.5L746.1,514.5L740.7,511.5V486.7Q740.7,485.1 742.3,485.1Z" fill="#fff" fill-opacity="1" stroke="#777" stroke-width="1.2"/><rect x="740.7" y="485.1" width="10.8" height="13.8" rx="1.6" fill="#fff" fill-opacity="1" stroke="#777" stroke-width="1.2"/><path d="M743.3,498.9L746.1,514L748.9,498.9" fill="none" stroke="#6f6f6f" stroke-width="1"/>
<path d="M739.7,514.5H748.3Q749.5,514.5 749.5,515.7V527.5Q749.5,528.7 748.3,528.7H746.6L744,531.5L741.4,528.7H739.7Q738.5,528.7 738.5,527.5V515.7Q738.5,514.5 739.7,514.5Z" fill="#fff" fill-opacity="0.85" stroke="#727272" stroke-width="1.4"/>
<path d="M769.6,529.3H779.2Q780.4,529.3 780.4,530.5V542.3Q780.4,543.5 779.2,543.5H777L774.4,547.3L771.8,543.5H769.6Q768.4,543.5 768.4,542.3V530.5Q768.4,529.3 769.6,529.3Z" fill="#fff" fill-opacity="1" stroke="#727272" stroke-width="1.4"/>
<path d="M785.8,545H795.4Q796.6,545 796.6,546.2V558Q796.6,559.2 795.4,559.2H793.2L790.6,562.5L788,559.2H785.8Q784.6,559.2 784.6,558V546.2Q784.6,545 785.8,545Z" fill="#fff" fill-opacity="1" stroke="#727272" stroke-width="1.4"/>
<path d="M825,542.3H836.2Q837.4,542.3 837.4,543.5V555.7Q837.4,556.9 836.2,556.9H833.2L830.6,561.6L828,556.9H825Q823.8,556.9 823.8,555.7V543.5Q823.8,542.3 825,542.3Z" fill="#fff" fill-opacity="1" stroke="#727272" stroke-width="1.4"/>
<path d="M838.8,546.6H849.6Q850.8,546.6 850.8,547.8V559.8Q850.8,561 849.6,561H845L842.4,565.5L839.8,561H838.8Q837.6,561 837.6,559.8V547.8Q837.6,546.6 838.8,546.6Z" fill="#fff" fill-opacity="1" stroke="#727272" stroke-width="1.4"/>
<linearGradient id="gd" x1="0" y1="0" x2="0" y2="1"><stop offset="0" stop-color="#958c8a"/><stop offset="1" stop-color="#aaa2a0"/></linearGradient><rect x="860.65" y="354.4" width="2.3" height="60" fill="url(#gd)"/><path d="M857,340.6H866Q867.2,340.6 867.2,341.8V353.2Q867.2,354.4 866,354.4H864.4L861.8,355.4L859.2,354.4H857Q855.8,354.4 855.8,353.2V341.8Q855.8,340.6 857,340.6Z" fill="#fff" fill-opacity="1" stroke="#727272" stroke-width="1.4"/>
<path d="M870.7,495.9H878.5Q879.7,495.9 879.7,497.1V509.9Q879.7,511.1 878.5,511.1H877.2L874.6,513.5L872,511.1H870.7Q869.5,511.1 869.5,509.9V497.1Q869.5,495.9 870.7,495.9Z" fill="#fff" fill-opacity="1" stroke="#727272" stroke-width="1.4"/>
<path d="M882.7,541.7H892.9Q894.1,541.7 894.1,542.9V555.3Q894.1,556.5 892.9,556.5H890.4L887.8,559.8L885.2,556.5H882.7Q881.5,556.5 881.5,555.3V542.9Q881.5,541.7 882.7,541.7Z" fill="#fff" fill-opacity="1" stroke="#727272" stroke-width="1.4"/>
<path d="M898.1,548.8H908.3Q909.5,548.8 909.5,550V562Q909.5,563.2 908.3,563.2H905.8L903.2,566.8L900.6,563.2H898.1Q896.9,563.2 896.9,562V550Q896.9,548.8 898.1,548.8Z" fill="#fff" fill-opacity="1" stroke="#727272" stroke-width="1.4"/>
<path d="M965.9,550.2H974.9Q976.1,550.2 976.1,551.4V562.8Q976.1,564 974.9,564H973L970.4,567.4L967.8,564H965.9Q964.7,564 964.7,562.8V551.4Q964.7,550.2 965.9,550.2Z" fill="#fff" fill-opacity="1" stroke="#727272" stroke-width="1.4"/>
<path d="M1000,550.2H1009Q1010.2,550.2 1010.2,551.4V562.8Q1010.2,564 1009,564H1007.1L1004.5,567.4L1001.9,564H1000Q998.8,564 998.8,562.8V551.4Q998.8,550.2 1000,550.2Z" fill="#fff" fill-opacity="1" stroke="#727272" stroke-width="1.4"/>
<path d="M1015.4,550.2H1024.4Q1025.6,550.2 1025.6,551.4V562.8Q1025.6,564 1024.4,564H1022.5L1019.9,567.4L1017.3,564H1015.4Q1014.2,564 1014.2,562.8V551.4Q1014.2,550.2 1015.4,550.2Z" fill="#fff" fill-opacity="1" stroke="#727272" stroke-width="1.4"/>
<path d="M1047.2,550.2H1056.2Q1057.4,550.2 1057.4,551.4V562.8Q1057.4,564 1056.2,564H1054.3L1051.7,567.4L1049.1,564H1047.2Q1046,564 1046,562.8V551.4Q1046,550.2 1047.2,550.2Z" fill="#fff" fill-opacity="1" stroke="#727272" stroke-width="1.4"/>
<path d="M1101.5,550.2H1110.5Q1111.7,550.2 1111.7,551.4V562.8Q1111.7,564 1110.5,564H1108.6L1106,567.4L1103.4,564H1101.5Q1100.3,564 1100.3,562.8V551.4Q1100.3,550.2 1101.5,550.2Z" fill="#fff" fill-opacity="1" stroke="#727272" stroke-width="1.4"/>
<text class="lb" transform="translate(747.4,557.8) scale(1,1.16)" text-anchor="middle" font-size="11.4">Cr</text>
<text class="lb" transform="translate(746.1,495) scale(1,1.16)" text-anchor="middle" font-size="11.4">O</text>
<text class="lb" transform="translate(744,524.8) scale(1,1.16)" text-anchor="middle" font-size="11.4">Ti</text>
<text class="lb" transform="translate(774.4,539.6) scale(1,1.16)" text-anchor="middle" font-size="11.4">Al</text>
<text class="lb" transform="translate(790.6,555.3) scale(1,1.16)" text-anchor="middle" font-size="11.4">Pt</text>
<text class="lb" transform="translate(830.6,553) scale(1,1.16)" text-anchor="middle" font-size="11.4">Sn</text>
<text class="lb" transform="translate(844.2,557.1) scale(1,1.16)" text-anchor="middle" font-size="11.4">Sn</text>
<text class="lb" transform="translate(861.5,349) scale(1,1.16)" text-anchor="middle" font-size="11.4">Ti</text>
<text class="lb" transform="translate(874.6,507.2) scale(1,1.16)" text-anchor="middle" font-size="11.4">V</text>
<text class="lb" transform="translate(887.8,552.6) scale(1,1.16)" text-anchor="middle" font-size="11.4">Cr</text>
<text class="lb" transform="translate(903.2,559.3) scale(1,1.16)" text-anchor="middle" font-size="11.4">Cr</text>
<text class="lb" transform="translate(970.4,560.1) scale(1,1.16)" text-anchor="middle" font-size="11.4">Pt</text>
<text class="lb" transform="translate(1004.5,560.1) scale(1,1.16)" text-anchor="middle" font-size="11.4">Pt</text>
<text class="lb" transform="translate(1019.9,560.1) scale(1,1.16)" text-anchor="middle" font-size="11.4">Pt</text>
<text class="lb" transform="translate(1051.7,560.1) scale(1,1.16)" text-anchor="middle" font-size="11.4">Pt</text>
<text class="lb" transform="translate(1106,560.1) scale(1,1.16)" text-anchor="middle" font-size="11.4">Pt</text>
<path d="M744.2,532V547" stroke="#6c6664" stroke-width="0.9" fill="none" opacity="0.8"/>
<path d="M746.2,532V545" stroke="#6c6664" stroke-width="0.9" fill="none" opacity="0.8"/>
<path d="M731.5,557.03V568.5" stroke="#555" stroke-width="1.1" fill="none"/>
<path d="M724.2,338H1282V568.5H724.2Z" fill="none" stroke="#1c1c1c" stroke-width="1.3"/>
<path d="M723.6,338H1282.6" stroke="#555" stroke-width="1.8" fill="none"/>
<path d="M724.2,515.9h7.5M724.2,463.5h7.5M724.2,411.1h7.5M724.2,358.7h7.5M731.5,568.5v-6M789.4,568.5v-6M847.3,568.5v-6M905.2,568.5v-6M963.1,568.5v-6M1021,568.5v-6M1078.9,568.5v-6M1136.8,568.5v-6M1194.7,568.5v-6M1252.6,568.5v-6" fill="none" stroke="#222" stroke-width="1.2"/>
<text class="tk" x="716.6" y="365.5" text-anchor="end" font-size="22.5">80</text>
<text class="tk" x="716.6" y="417.28" text-anchor="end" font-size="22.5">60</text>
<text class="tk" x="716.6" y="469.06" text-anchor="end" font-size="22.5">40</text>
<text class="tk" x="716.6" y="520.84" text-anchor="end" font-size="22.5">20</text>
<text class="tk" x="716.6" y="572.62" text-anchor="end" font-size="22.5">0</text>
<text class="tk" x="729.3" y="591.7" text-anchor="middle" font-size="22.5">0</text>
<text class="tk" x="787.7" y="591.7" text-anchor="middle" font-size="22.5">2</text>
<text class="tk" x="846.1" y="591.7" text-anchor="middle" font-size="22.5">4</text>
<text class="tk" x="904.5" y="591.7" text-anchor="middle" font-size="22.5">6</text>
<text class="tk" x="962.9" y="591.7" text-anchor="middle" font-size="22.5">8</text>
<text class="tk" x="1021.3" y="591.7" text-anchor="middle" font-size="22.5">10</text>
<text class="tk" x="1079.7" y="591.7" text-anchor="middle" font-size="22.5">12</text>
<text class="tk" x="1138.1" y="591.7" text-anchor="middle" font-size="22.5">14</text>
<text class="tk" x="1196.5" y="591.7" text-anchor="middle" font-size="22.5">16</text>
<text class="tk" x="1254.9" y="591.7" text-anchor="middle" font-size="22.5">18</text>
<text transform="translate(683.7,461.75) rotate(-90)" text-anchor="middle" font-size="21" letter-spacing="0.35">信号强度/eV</text>
<text x="999.8" y="623.8" text-anchor="middle" font-size="21" letter-spacing="0.15">能量/keV</text>
<text x="962" y="658.6" font-size="21">d</text>

<text x="323" y="323.4" font-size="21" letter-spacing="0.5">白色</text>
<text x="988.6" y="323.4" font-size="21" letter-spacing="0.5">黄色</text>
<text x="326.8" y="657.3" font-size="21" letter-spacing="0.5">蓝色</text>
<text x="994.6" y="658.6" font-size="21" letter-spacing="0.5">紫色</text>
<text x="450.4" y="705.4" font-size="23">图</text>
<text x="481" y="705.4" font-size="22.5">4</text>
<text x="518.4" y="705.4" font-size="23" letter-spacing="2.06">各颜色样本表面元素测量结果</text>
<text x="304.3" y="736.2" font-size="22.4" letter-spacing="1.16">Fig.4 Measurement results of surface elements of each color sample</text>

</svg>
</body></html>
